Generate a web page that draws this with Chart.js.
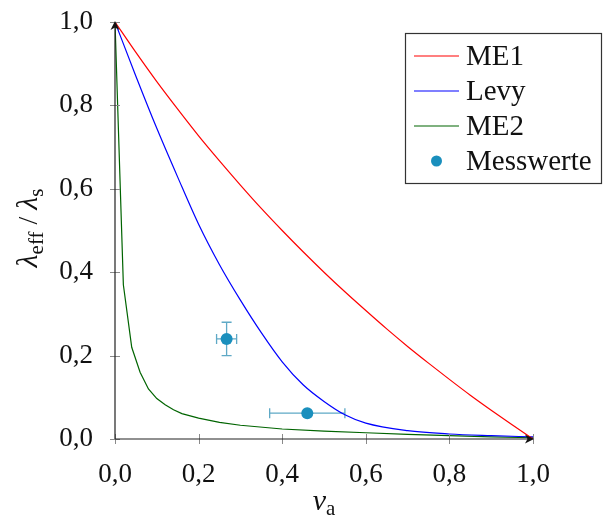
<!DOCTYPE html>
<html>
<head>
<meta charset="utf-8">
<script src="https://cdn.jsdelivr.net/npm/chart.js@4"></script>
<style>
  body { margin: 0; background: #fff; }
  canvas { display: block; }
</style>
</head>
<body>
<canvas id="myChart" width="603" height="522"></canvas>
<script>
// curves
const nuMe1 = [0, 0.05, 0.1, 0.15, 0.2, 0.25, 0.3, 0.35, 0.4, 0.45, 0.5, 0.55, 0.6, 0.65, 0.7, 0.75, 0.8, 0.85, 0.9, 0.95, 1.0];
const me1 = [1.0, 0.927, 0.857, 0.791, 0.727, 0.667, 0.609, 0.553, 0.5, 0.449, 0.4, 0.353, 0.308, 0.264, 0.222, 0.182, 0.143, 0.105, 0.069, 0.034, 0.0];

const nuLevy = [0, 0.05, 0.1, 0.15, 0.2, 0.25, 0.3, 0.35, 0.4, 0.45, 0.5, 0.55, 0.6, 0.7, 0.8, 0.9, 1.0];
const levy = [1.0, 0.87, 0.745, 0.628, 0.515, 0.418, 0.333, 0.255, 0.185, 0.13, 0.09, 0.058, 0.038, 0.02, 0.012, 0.008, 0.005];

const nuMe2 = [0, 0.02, 0.04, 0.06, 0.08, 0.1, 0.12, 0.14, 0.16, 0.2, 0.25, 0.3, 0.4, 0.5, 0.6, 0.7, 0.8, 0.9, 1.0];
const me2 = [1.0, 0.37, 0.22, 0.16, 0.12, 0.097, 0.082, 0.07, 0.061, 0.05, 0.04, 0.033, 0.024, 0.019, 0.015, 0.011, 0.008, 0.005, 0.003];

// measurements with errors
const measNu = [0.267, 0.46];
const measLambda = [0.24, 0.062];
const nuErr = [0.024, 0.09];
const lambdaErr = [0.04, 0];

const tickValues = [0, 0.2, 0.4, 0.6, 0.8, 1.0];
const tickLabels = ["0,0", "0,2", "0,4", "0,6", "0,8", "1,0"];

const serif = "'Liberation Serif', 'DejaVu Serif', serif";
const measColor = "#1a8fbd";
const errColor = "#5fa9c6";

function pts(xs, ys) {
  return xs.map((x, i) => ({ x: x, y: ys[i] }));
}

function fixedTicks(scale) {
  scale.ticks = tickValues.map((v) => ({ value: v }));
}

// axes with arrows, ticks across the axis, error bars
const axesPlugin = {
  id: "axesPlugin",
  beforeDatasetsDraw(chart) {
    const c = chart.ctx;
    const xs = chart.scales.x, ys = chart.scales.y;
    c.save();
    c.strokeStyle = errColor;
    c.lineWidth = 1.3;
    for (let i = 0; i < measNu.length; i++) {
      const px = xs.getPixelForValue(measNu[i]);
      const py = ys.getPixelForValue(measLambda[i]);
      const x1 = xs.getPixelForValue(measNu[i] - nuErr[i]);
      const x2 = xs.getPixelForValue(measNu[i] + nuErr[i]);
      const y1 = ys.getPixelForValue(measLambda[i] - lambdaErr[i]);
      const y2 = ys.getPixelForValue(measLambda[i] + lambdaErr[i]);
      c.beginPath();
      c.moveTo(x1, py); c.lineTo(x2, py);
      c.moveTo(x1, py - 5); c.lineTo(x1, py + 5);
      c.moveTo(x2, py - 5); c.lineTo(x2, py + 5);
      if (lambdaErr[i] > 0) {
        c.moveTo(px, y1); c.lineTo(px, y2);
        c.moveTo(px - 5, y1); c.lineTo(px + 5, y1);
        c.moveTo(px - 5, y2); c.lineTo(px + 5, y2);
      }
      c.stroke();
    }
    c.restore();
  },
  afterDatasetsDraw(chart) {
    const c = chart.ctx;
    const a = chart.chartArea;
    const xs = chart.scales.x, ys = chart.scales.y;
    c.save();
    // ticks
    c.strokeStyle = "#8a8a8a";
    c.lineWidth = 1;
    c.beginPath();
    tickValues.forEach((v) => {
      const px = Math.round(xs.getPixelForValue(v)) + 0.5;
      c.moveTo(px, a.bottom - 5); c.lineTo(px, a.bottom + 5);
      const py = Math.round(ys.getPixelForValue(v)) + 0.5;
      c.moveTo(a.left - 5, py); c.lineTo(a.left + 5, py);
    });
    c.stroke();
    // axis lines
    c.strokeStyle = "#222";
    c.lineWidth = 1.2;
    c.beginPath();
    c.moveTo(a.left, a.bottom); c.lineTo(a.left, a.top + 3);
    c.moveTo(a.left, a.bottom); c.lineTo(a.right - 3, a.bottom);
    c.stroke();
    // arrow heads
    c.fillStyle = "#111";
    c.beginPath();
    c.moveTo(a.left, a.top - 1);
    c.lineTo(a.left - 4.5, a.top + 8);
    c.lineTo(a.left, a.top + 5.5);
    c.lineTo(a.left + 4.5, a.top + 8);
    c.closePath();
    c.fill();
    c.beginPath();
    c.moveTo(a.right + 1, a.bottom);
    c.lineTo(a.right - 8, a.bottom - 4.5);
    c.lineTo(a.right - 5.5, a.bottom);
    c.lineTo(a.right - 8, a.bottom + 4.5);
    c.closePath();
    c.fill();
    c.restore();
  },
  afterDraw(chart) {
    const c = chart.ctx;
    const a = chart.chartArea;
    c.save();
    c.fillStyle = "#111";
    c.textBaseline = "alphabetic";
    // x title: nu_a
    const cx = (a.left + a.right) / 2;
    c.font = "italic 30px " + serif;
    const wNu = c.measureText("ν").width;
    c.font = "21px " + serif;
    const wA = c.measureText("a").width;
    let x0 = cx - (wNu + wA) / 2;
    c.font = "italic 30px " + serif;
    c.fillText("ν", x0, 510);
    c.font = "21px " + serif;
    c.fillText("a", x0 + wNu, 515);
    // y title: lambda_eff / lambda_s
    c.translate(37, 228);
    c.rotate(-Math.PI / 2);
    const parts = [
      ["λ", "italic 30px ", 0],
      ["eff", "21px ", 6],
      [" / ", "28px ", 0],
      ["λ", "italic 30px ", 0],
      ["s", "21px ", 6],
    ];
    let total = 0;
    parts.forEach((p) => { c.font = p[1] + serif; total += c.measureText(p[0]).width; });
    let x = -total / 2;
    parts.forEach((p) => {
      c.font = p[1] + serif;
      c.fillText(p[0], x, p[2]);
      x += c.measureText(p[0]).width;
    });
    c.restore();

    // legend box
    c.save();
    const lx = 405.5, ly = 33.5, lw = 196, lh = 150;
    c.fillStyle = "#fff";
    c.fillRect(lx, ly, lw, lh);
    c.strokeStyle = "#333";
    c.lineWidth = 1.2;
    c.strokeRect(lx, ly, lw, lh);
    c.font = "29px " + serif;
    c.textBaseline = "middle";
    chart.data.datasets.forEach((ds, i) => {
      const ry = 56 + i * 35;
      if (ds.showLine) {
        c.strokeStyle = ds.borderColor;
        c.lineWidth = 1.2;
        c.beginPath();
        c.moveTo(414, ry); c.lineTo(459, ry);
        c.stroke();
      } else {
        c.fillStyle = ds.backgroundColor;
        c.beginPath();
        c.arc(436.5, ry, 5.5, 0, Math.PI * 2);
        c.fill();
      }
      c.fillStyle = "#111";
      c.fillText(ds.label, 466, ry + 1);
    });
    c.restore();
  },
};

const ctx = document.getElementById("myChart").getContext("2d");

new Chart(ctx, {
  type: "scatter",
  data: {
    datasets: [
      {
        label: "ME1",
        data: pts(nuMe1, me1),
        showLine: true,
        borderColor: "#ff0000",
        borderWidth: 1.2,
        pointRadius: 0,
        cubicInterpolationMode: "monotone",
      },
      {
        label: "Levy",
        data: pts(nuLevy, levy),
        showLine: true,
        borderColor: "#0000ff",
        borderWidth: 1.2,
        pointRadius: 0,
        cubicInterpolationMode: "monotone",
      },
      {
        label: "ME2",
        data: pts(nuMe2, me2),
        showLine: true,
        borderColor: "#006400",
        borderWidth: 1.2,
        pointRadius: 0,
        tension: 0,
      },
      {
        label: "Messwerte",
        data: pts(measNu, measLambda),
        showLine: false,
        backgroundColor: measColor,
        borderColor: measColor,
        borderWidth: 0,
        pointRadius: 6,
      },
    ],
  },
  options: {
    responsive: false,
    animation: false,
    layout: { padding: { top: 22, right: 70, left: 0, bottom: 0 } },
    plugins: {
      legend: { display: false },
      tooltip: { enabled: false },
    },
    scales: {
      x: {
        type: "linear",
        min: 0,
        max: 1,
        afterBuildTicks: fixedTicks,
        afterFit(scale) {
          scale.height = 83;
          scale.paddingLeft = 0;
          scale.paddingRight = 0;
        },
        grid: { display: false },
        border: { display: false },
        ticks: {
          padding: 12,
          color: "#111",
          font: { family: serif, size: 27 },
          maxRotation: 0,
          callback: (v) => tickLabels[tickValues.indexOf(v)],
        },
      },
      y: {
        type: "linear",
        min: 0,
        max: 1,
        afterBuildTicks: fixedTicks,
        afterFit(scale) {
          scale.width = 115;
          scale.paddingTop = 0;
          scale.paddingBottom = 0;
        },
        grid: { display: false },
        border: { display: false },
        ticks: {
          padding: 14,
          color: "#111",
          font: { family: serif, size: 27 },
          callback: (v) => tickLabels[tickValues.indexOf(v)],
        },
      },
    },
  },
  plugins: [axesPlugin],
});
</script>
</body>
</html>
